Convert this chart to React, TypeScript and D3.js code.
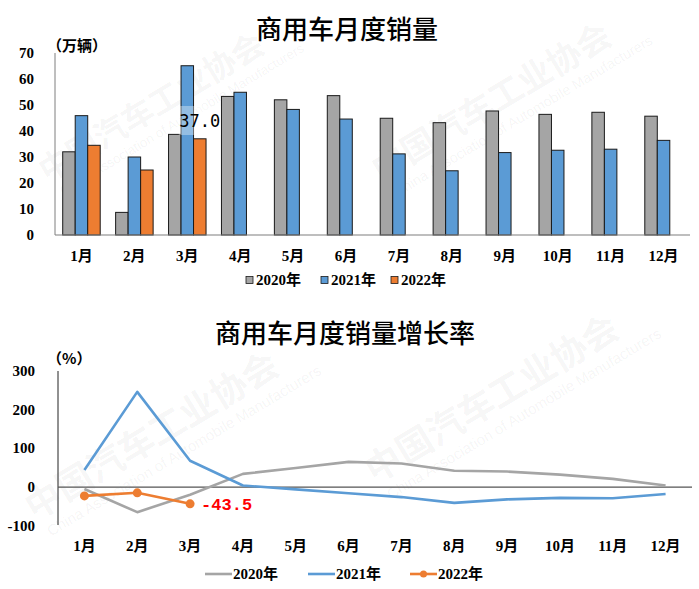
import React from "react";
import * as d3 from "d3";

const months = ["1月", "2月", "3月", "4月", "5月", "6月", "7月", "8月", "9月", "10月", "11月", "12月"];
const seriesNames = ["2020年", "2021年", "2022年"];
const sales2020 = [32.0, 8.7, 38.7, 53.3, 52.0, 53.6, 44.9, 43.2, 47.7, 46.4, 47.2, 45.7];
const sales2021 = [45.9, 30.0, 65.1, 54.9, 48.3, 44.6, 31.2, 24.7, 31.7, 32.6, 33.0, 36.4];
const sales2022 = [34.5, 25.0, 37.0];
const growth2020 = [-5, -65, -20, 34, 49, 65, 61, 42, 40, 32, 21, 4];
const growth2021 = [44, 246, 68, 4, -6, -16, -26, -41, -32, -28, -29, -18];
const growth2022 = [-23, -15, -43.5];
const salesTicks = [0, 10, 20, 30, 40, 50, 60, 70];
const growthTicks = [-100, 0, 100, 200, 300];

const colors = ["#A5A5A5", "#5B9BD5", "#ED7D31"];
const numFont = "'Liberation Serif', 'Times New Roman', 'Noto Sans CJK SC', serif";
const cjkFont = "'Noto Sans CJK SC', sans-serif";

const Watermark = ({ cx, cy, size = 38 }: { cx: number; cy: number; size?: number }) => (
  <g transform={`translate(${cx},${cy}) rotate(-31)`} pointerEvents="none">
    <text textAnchor="middle" dominantBaseline="central" fontFamily={cjkFont} fontWeight={700} fontSize={size} fill="#000" fillOpacity={0.05}>
      中国汽车工业协会
    </text>
    <text y={size * 0.9} x={20} textAnchor="middle" dominantBaseline="central" fontFamily="'Liberation Sans', sans-serif" fontSize={size * 0.42} fill="#000" fillOpacity={0.05}>
      China Association of Automobile Manufacturers
    </text>
  </g>
);

export default function App() {
  // top chart scales
  const x1 = d3.scaleBand<string>().domain(months).range([55, 690]).padding(0);
  const y1 = d3.scaleLinear().domain([0, 70]).range([235, 53]);
  const inner = d3.scaleBand<string>().domain(seriesNames).range([-18.75, 18.75]).padding(0);
  const salesSeries = [sales2020, sales2021, sales2022];

  // bottom chart scales
  const x2 = d3.scaleBand<string>().domain(months).range([58, 692]).padding(0);
  const y2 = d3.scaleLinear().domain([-100, 300]).range([525.7, 371]);
  const growthSeries = [growth2020, growth2021, growth2022];
  const line = d3
    .line<number>()
    .x((_, i) => (x2(months[i]) as number) + x2.bandwidth() / 2)
    .y((d) => y2(d));

  const cx1 = (m: string) => (x1(m) as number) + x1.bandwidth() / 2;
  const cx2 = (m: string) => (x2(m) as number) + x2.bandwidth() / 2;

  const label37x = cx1("3月") + (inner("2022年") as number) + inner.bandwidth() / 2;
  const label43x = cx2("3月");

  return (
    <svg width={699} height={589} style={{ display: "block", position: "absolute", left: 0, top: 0, background: "#fff" }}>
      <rect width={699} height={589} fill="#fff" />
      <Watermark cx={150} cy={105} size={32} />
      <Watermark cx={490} cy={100} size={34} />
      <Watermark cx={150} cy={433} size={36} />
      <Watermark cx={490} cy={396} size={36} />

      {/* ===== Top chart ===== */}
      <text x={347} y={27} textAnchor="middle" dominantBaseline="central" fontFamily={cjkFont} fontWeight={500} fontSize={26} fill="#000">
        商用车月度销量
      </text>
      <text x={47} y={44} dominantBaseline="central" fontFamily={cjkFont} fontWeight={700} fontSize={15} fill="#000">
        （万辆）
      </text>
      {salesTicks.map((t) => (
        <text key={t} x={34} y={y1(t)} textAnchor="end" dominantBaseline="central" fontFamily={numFont} fontWeight={700} fontSize={15} fill="#000">
          {t}
        </text>
      ))}
      {salesSeries.map((vals, si) =>
        vals.map((v, i) => {
          const m = months[i];
          const bx = cx1(m) + (inner(seriesNames[si]) as number);
          return (
            <rect
              key={`${si}-${i}`}
              x={bx}
              y={y1(v)}
              width={inner.bandwidth()}
              height={y1(0) - y1(v)}
              fill={colors[si]}
              stroke="#1a1a1a"
              strokeWidth={1}
            />
          );
        })
      )}
      <line x1={55} x2={55} y1={53} y2={235} stroke="#7f7f7f" strokeWidth={1} />
      <line x1={55} x2={690} y1={235} y2={235} stroke="#7f7f7f" strokeWidth={1.2} />
      {months.map((m) => (
        <text key={m} x={cx1(m)} y={256} textAnchor="middle" dominantBaseline="central" fontFamily={numFont} fontWeight={700} fontSize={15} fill="#000">
          {m}
        </text>
      ))}
      <rect x={label37x - 21} y={106} width={42} height={29} fill="#fff" fillOpacity={0.35} />
      <text x={label37x} y={121} textAnchor="middle" dominantBaseline="central" fontFamily="'DejaVu Sans Mono', monospace" fontSize={17} fill="#000">
        {sales2022[2].toFixed(1)}
      </text>
      {/* top legend */}
      {seriesNames.map((s, i) => {
        const lx = [246, 321, 391][i];
        return (
          <g key={s}>
            <rect x={lx} y={276.5} width={7} height={7} fill={colors[i]} stroke="#1a1a1a" strokeWidth={0.8} />
            <text x={lx + 10} y={280} dominantBaseline="central" fontFamily={numFont} fontWeight={700} fontSize={15} fill="#000">
              {s}
            </text>
          </g>
        );
      })}

      {/* ===== Bottom chart ===== */}
      <text x={345} y={331} textAnchor="middle" dominantBaseline="central" fontFamily={cjkFont} fontWeight={500} fontSize={26} fill="#000">
        商用车月度销量增长率
      </text>
      <text x={47} y={357} dominantBaseline="central" fontFamily={cjkFont} fontWeight={700} fontSize={15} fill="#000">
        （%）
      </text>
      {growthTicks.map((t) => (
        <text key={t} x={35} y={y2(t)} textAnchor="end" dominantBaseline="central" fontFamily={numFont} fontWeight={700} fontSize={15} fill="#000">
          {t}
        </text>
      ))}
      <line x1={58} x2={58} y1={371} y2={525} stroke="#222" strokeWidth={1} />
      <line x1={58} x2={692} y1={y2(0)} y2={y2(0)} stroke="#555" strokeWidth={1.2} />
      {growthSeries.map((vals, si) => (
        <path key={si} d={line(vals) as string} fill="none" stroke={colors[si]} strokeWidth={2.6} strokeLinejoin="round" />
      ))}
      {growth2022.map((v, i) => (
        <circle key={i} cx={cx2(months[i])} cy={y2(v)} r={4.5} fill={colors[2]} />
      ))}
      <text x={label43x + 11} y={y2(growth2022[2]) + 2} dominantBaseline="central" fontFamily="'Liberation Mono', monospace" fontWeight={700} fontSize={17} fill="#FF0000">
        {growth2022[2].toFixed(1)}
      </text>
      {months.map((m) => (
        <text key={m} x={cx2(m)} y={546} textAnchor="middle" dominantBaseline="central" fontFamily={numFont} fontWeight={700} fontSize={15} fill="#000">
          {m}
        </text>
      ))}
      {/* bottom legend */}
      {seriesNames.map((s, i) => {
        const lx = [205, 308, 410][i];
        return (
          <g key={s}>
            <line x1={lx} x2={lx + 27} y1={574} y2={574} stroke={colors[i]} strokeWidth={2.6} />
            {i === 2 && <circle cx={lx + 13.5} cy={574} r={3.5} fill={colors[i]} />}
            <text x={lx + 28} y={574} dominantBaseline="central" fontFamily={numFont} fontWeight={700} fontSize={15} fill="#000">
              {s}
            </text>
          </g>
        );
      })}
    </svg>
  );
}
